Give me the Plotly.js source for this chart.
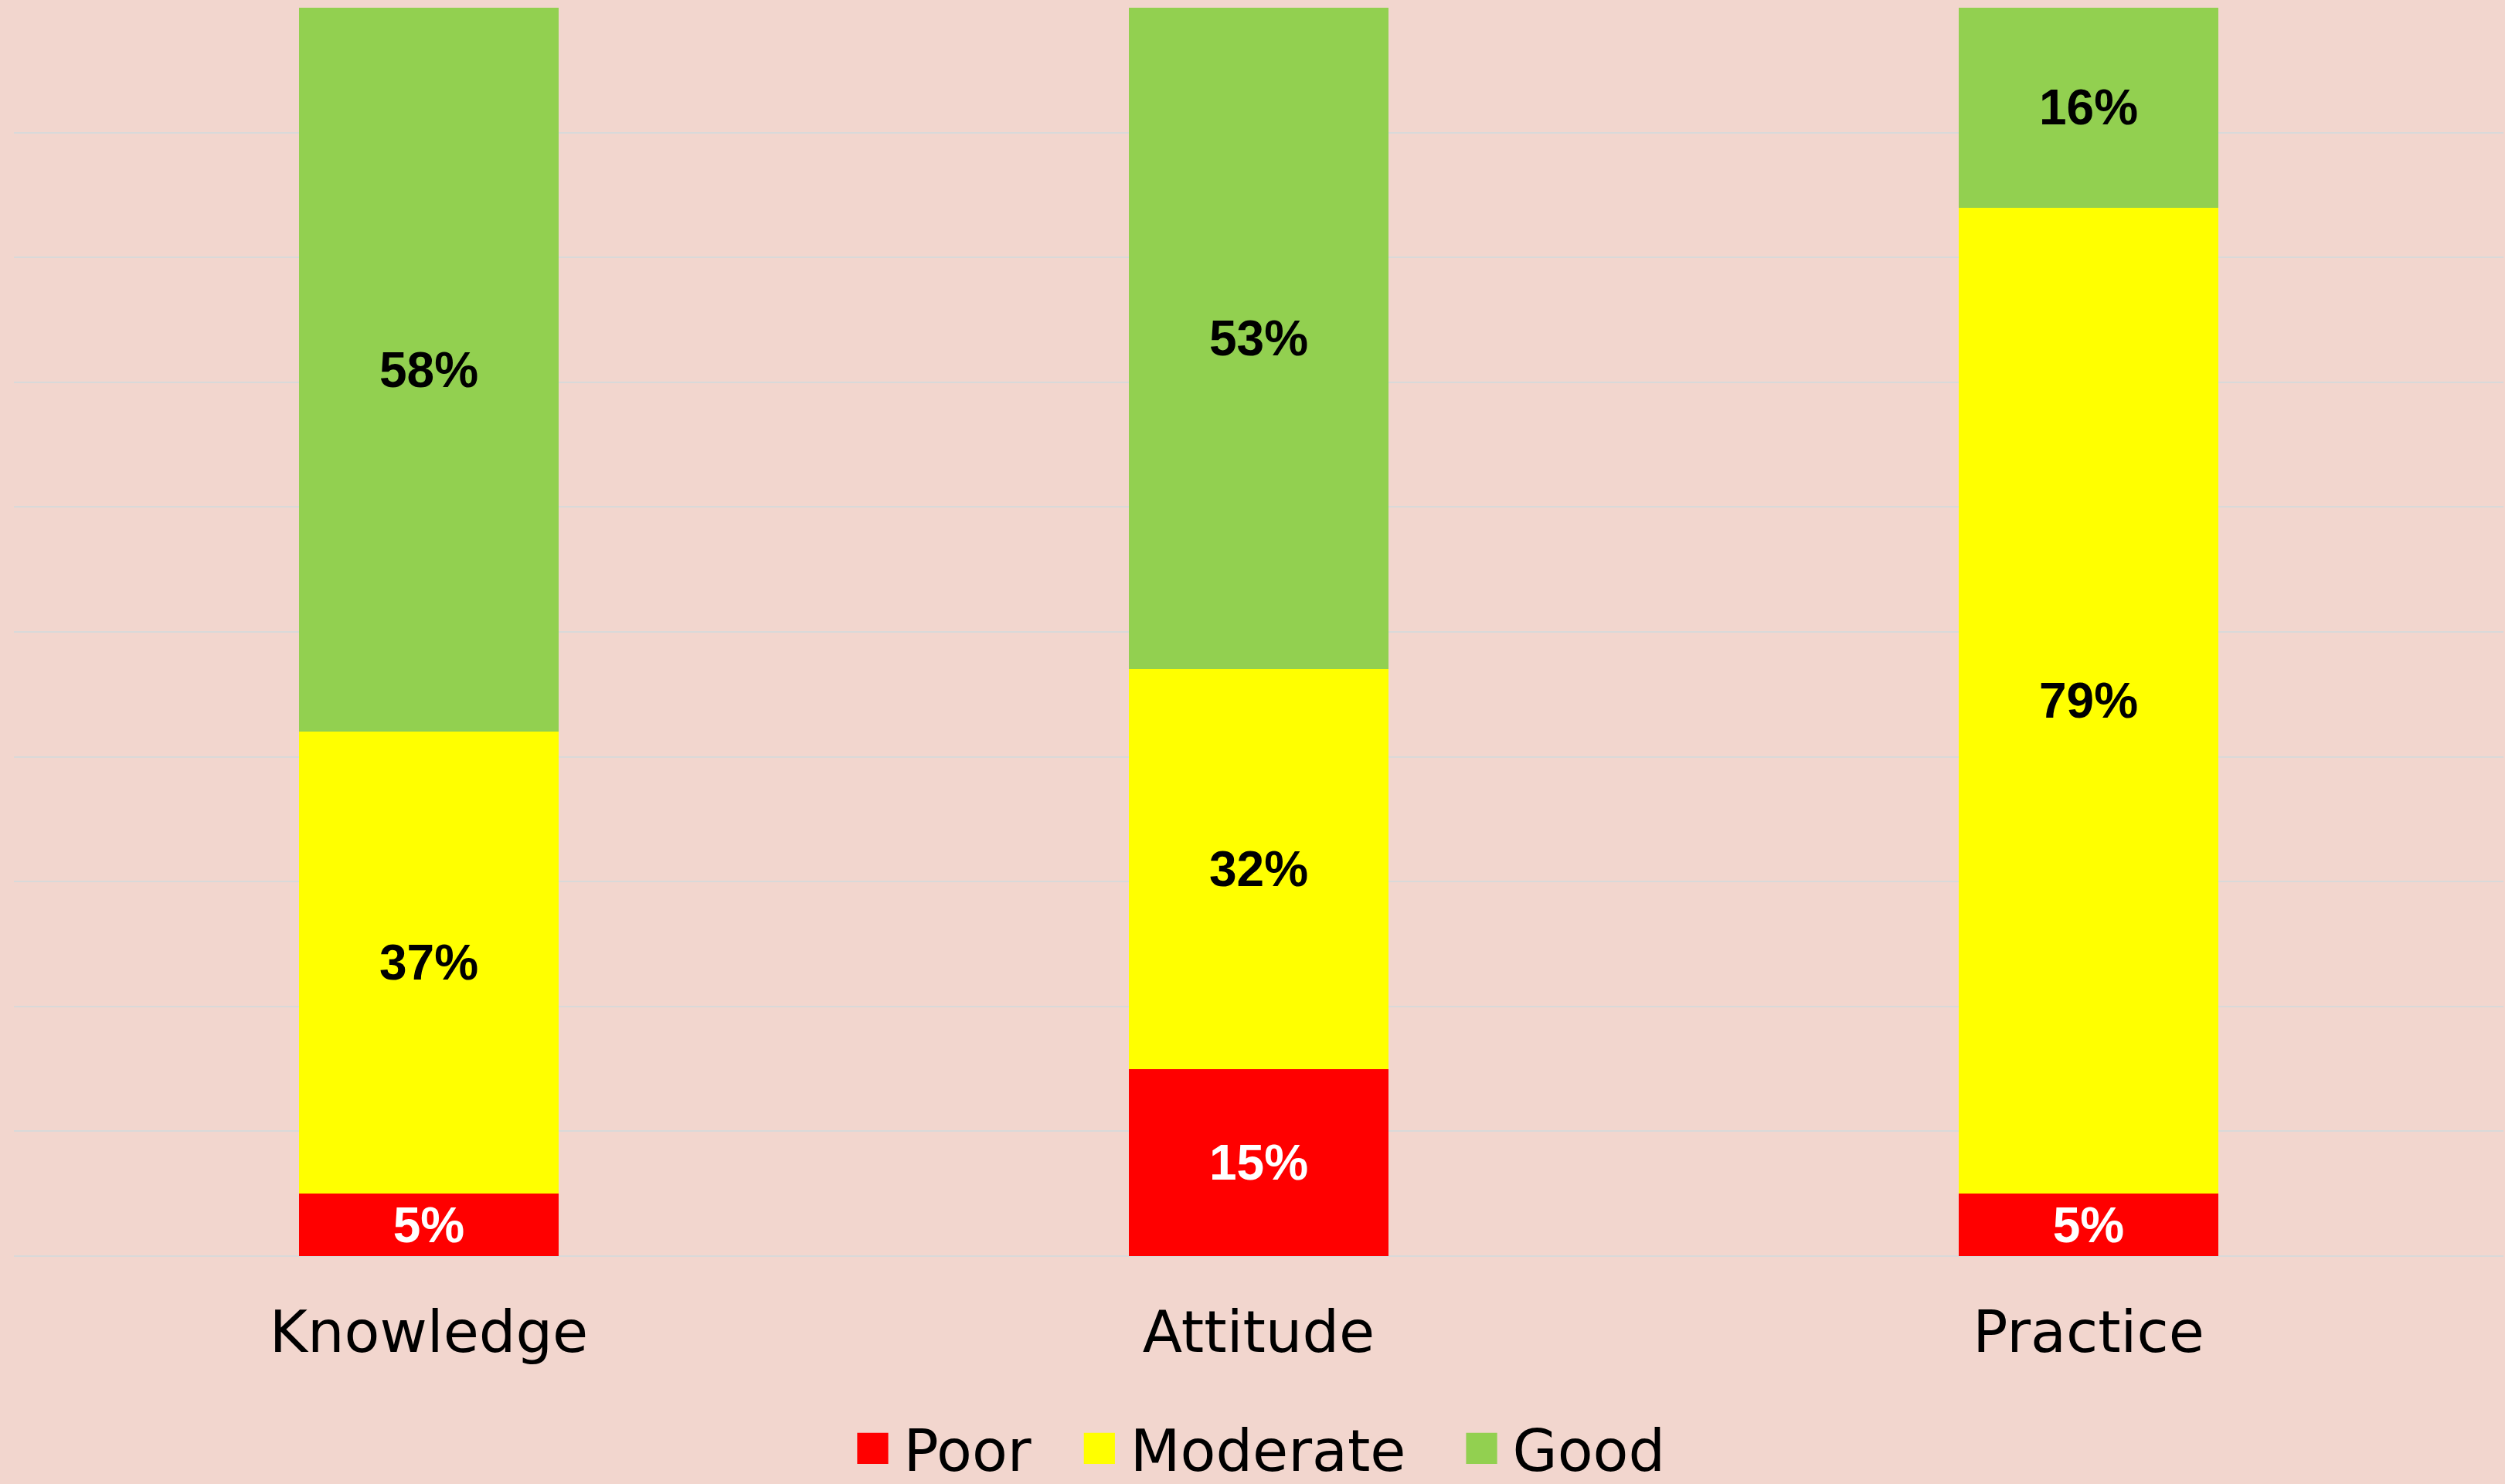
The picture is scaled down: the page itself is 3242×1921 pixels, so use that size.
<!DOCTYPE html>
<html>
<head>
<meta charset="utf-8">
<script src="https://cdn.plot.ly/plotly-3.0.1.min.js"></script>
<style>
  html, body { margin: 0; padding: 0; background: #F2D6CE; }
  #chart { width: 3242px; height: 1921px; }
</style>
</head>
<body>
<div id="chart"></div>
<script>
// ---- Data ----
const categories = ['Knowledge', 'Attitude', 'Practice'];
const seriesNames = ['Poor', 'Moderate', 'Good'];
const poorValues = [5, 15, 5];
const moderateValues = [37, 32, 79];
const goodValues = [58, 53, 16];
const seriesColors = ['#FF0000', '#FFFF00', '#92D050'];
const labelColors = ['#FFFFFF', '#000000', '#000000'];

const seriesValues = [poorValues, moderateValues, goodValues];

const traces = seriesNames.map((name, i) => ({
  type: 'bar',
  name: name,
  x: categories,
  y: seriesValues[i],
  marker: { color: seriesColors[i], line: { width: 0 } },
  texttemplate: '%{y}%',
  textposition: 'inside',
  insidetextanchor: 'middle',
  textangle: 0,
  constraintext: 'none',
  textfont: { family: 'Liberation Sans, Arial, sans-serif', size: 64, weight: 'bold', color: labelColors[i] },
  hoverinfo: 'none'
}));

const layout = {
  width: 3242,
  height: 1921,
  margin: { l: 18, r: 2, t: 10, b: 295, pad: 0, autoexpand: false },
  paper_bgcolor: '#F2D6CE',
  plot_bgcolor: '#F2D6CE',
  barmode: 'stack',
  bargap: 0.688,
  showlegend: true,
  xaxis: {
    type: 'category',
    showgrid: false,
    showline: false,
    zeroline: false,
    ticks: '',
    ticklabelstandoff: 48,
    tickfont: { family: 'DejaVu Sans, sans-serif', size: 75, color: '#000000' },
    fixedrange: true
  },
  yaxis: {
    range: [0, 100],
    dtick: 10,
    showticklabels: false,
    ticks: '',
    showgrid: true,
    gridcolor: '#D9D9D9',
    gridwidth: 2,
    zeroline: true,
    zerolinecolor: '#D9D9D9',
    zerolinewidth: 2,
    showline: false,
    fixedrange: true
  },
  legend: {
    orientation: 'h',
    x: 0.5,
    xanchor: 'center',
    y: -0.1885,
    yanchor: 'bottom',
    traceorder: 'normal',
    bgcolor: 'rgba(0,0,0,0)',
    borderwidth: 0,
    itemwidth: 70,
    font: { family: 'DejaVu Sans, sans-serif', size: 75, color: '#000000' }
  }
};

// extra horizontal spacing applied to legend entries (px)
const legendEntryShift = [-52, -9, 44];

Plotly.newPlot('chart', traces, layout, { displayModeBar: false, staticPlot: true }).then(() => {
  // enlarge legend colour squares to match the reference
  document.querySelectorAll('#chart .legend .legendpoints path').forEach(p => {
    const t = p.getAttribute('transform') || '';
    p.setAttribute('transform', t + ' scale(3.35)');
  });
  // widen spacing between legend entries
  document.querySelectorAll('#chart .legend .scrollbox').forEach(s => s.removeAttribute('clip-path'));
  document.querySelectorAll('#chart .legend .traces').forEach((g, i) => {
    const t = g.getAttribute('transform') || '';
    const m = t.match(/translate\(\s*([-\d.e]+)[ ,]+([-\d.e]+)\s*\)/);
    if (m) {
      const nx = parseFloat(m[1]) + (legendEntryShift[i] || 0);
      g.setAttribute('transform', 'translate(' + nx + ',' + m[2] + ')');
    }
  });
});
</script>
</body>
</html>
